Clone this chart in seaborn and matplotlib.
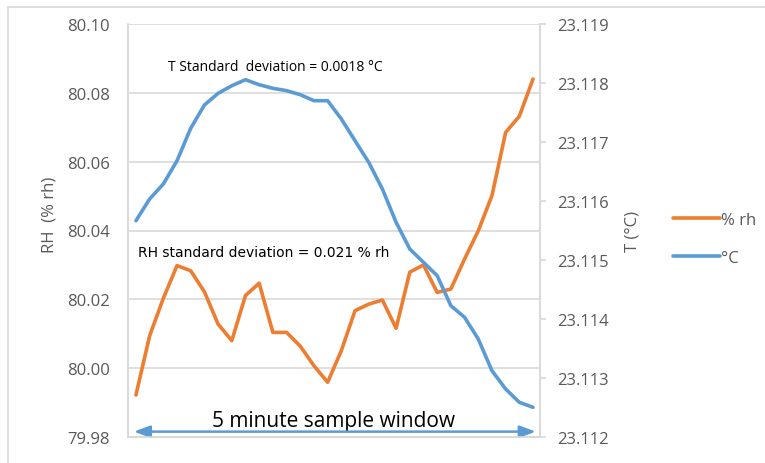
import numpy as np
import pandas as pd
import matplotlib
matplotlib.use("Agg")
import matplotlib.pyplot as plt
import seaborn as sns
from matplotlib.lines import Line2D
from matplotlib.ticker import FormatStrFormatter

# ---- data ----
rh_values = [79.9922, 80.0094, 80.0203, 80.0298, 80.0283, 80.0222, 80.0128, 80.0080,
             80.0211, 80.0247, 80.0104, 80.0104, 80.0064, 80.0007, 79.9959, 80.0051,
             80.0167, 80.0186, 80.0198, 80.0116, 80.0279, 80.0300, 80.0220, 80.0230,
             80.0317, 80.0399, 80.0501, 80.0685, 80.0732, 80.0840]
t_values = [23.115666, 23.116034, 23.116288, 23.116683, 23.117232, 23.117627, 23.117825,
            23.117954, 23.118056, 23.117971, 23.117910, 23.117870, 23.117802, 23.117700,
            23.117700, 23.117390, 23.117022, 23.116656, 23.116203, 23.115639, 23.115186,
            23.114961, 23.114734, 23.114225, 23.114029, 23.113661, 23.113124, 23.112814,
            23.112588, 23.112503]
sample = list(range(len(rh_values)))
series_labels = ["% rh", "°C"]
rh_ticks = [79.98, 80.00, 80.02, 80.04, 80.06, 80.08, 80.10]
t_ticks = [23.112, 23.113, 23.114, 23.115, 23.116, 23.117, 23.118, 23.119]

df = pd.DataFrame({"sample": sample, "rh": rh_values, "t": t_values})

ORANGE = "#ED7D31"
BLUE = "#5B9BD5"
GRID = "#D9D9D9"
TXT = "#595959"

sns.set_theme(style="white")
plt.rcParams["font.family"] = ["Open Sans", "DejaVu Sans"]

fig = plt.figure(figsize=(7.65, 4.64), dpi=100)
ax = fig.add_axes([128 / 765, 1 - 438 / 464, 412 / 765, 413 / 464])
ax2 = ax.twinx()

sns.lineplot(data=df, x="sample", y="rh", ax=ax, color=ORANGE, lw=2.6, legend=False)
sns.lineplot(data=df, x="sample", y="t", ax=ax2, color=BLUE, lw=2.6, legend=False)
ax2.set_zorder(ax.get_zorder() + 1)
ax2.patch.set_visible(False)

ax.set_xlim(-0.58, 29.51)
ax.set_ylim(rh_ticks[0], rh_ticks[-1])
ax.set_yticks(rh_ticks)
ax.yaxis.set_major_formatter(FormatStrFormatter("%.2f"))
ax2.set_ylim(t_ticks[0], t_ticks[-1])
ax2.set_yticks(t_ticks)
ax2.yaxis.set_major_formatter(FormatStrFormatter("%.3f"))

ax.set_xticks([])
ax.set_xlabel("")
ax.grid(axis="y", color=GRID, lw=1.2)
ax.set_axisbelow(True)

for a in (ax, ax2):
    for s in a.spines.values():
        s.set_color(GRID)
        s.set_linewidth(1.2)
    a.spines["top"].set_visible(False)

ax.tick_params(axis="y", length=0, pad=13, labelsize=12, labelcolor=TXT)
ax2.tick_params(axis="y", length=4, width=1.2, color=GRID, pad=8, labelsize=12, labelcolor=TXT)

ax.set_ylabel("RH  (% rh)", fontsize=12, color=TXT)
ax.yaxis.set_label_coords(-0.172, 0.54)
ax2.set_ylabel("T (°C)", fontsize=12, color=TXT)
ax2.yaxis.set_label_coords(1.206, 0.50)

# annotations
ax.text(2.34, 0.896, "T Standard  deviation = 0.0018 °C", transform=ax.get_xaxis_transform(),
        fontsize=10, color="black", va="center", ha="left")
ax.text(0.15, 0.448, "RH standard deviation = 0.021 % rh", transform=ax.get_xaxis_transform(),
        fontsize=10, color="black", va="center", ha="left", family=["DejaVu Sans"])
ax.text(14.46, 0.040, "5 minute sample window", transform=ax.get_xaxis_transform(),
        fontsize=15, color="black", va="center", ha="center")
ax.annotate("", xy=(29.2, 0.013), xytext=(-0.15, 0.013),
            xycoords=ax.get_xaxis_transform(), textcoords=ax.get_xaxis_transform(),
            arrowprops=dict(arrowstyle="<|-|>,head_length=0.8,head_width=0.3",
                            color=BLUE, lw=1.8, shrinkA=0, shrinkB=0))

handles = [Line2D([], [], color=ORANGE, lw=2.6), Line2D([], [], color=BLUE, lw=2.6)]
fig.legend(handles, series_labels, loc="center left", bbox_to_anchor=(658 / 765, 1 - 240 / 464),
           frameon=False, fontsize=12, handlelength=2.8, handletextpad=0.1, labelspacing=1.3,
           labelcolor=TXT)

# chart-area border
fig.add_artist(Line2D([8 / 765, 8 / 765], [0, 1 - 8 / 464], color=GRID, lw=1.2,
                      transform=fig.transFigure))
fig.add_artist(Line2D([8 / 765, 1], [1 - 8 / 464, 1 - 8 / 464], color=GRID, lw=1.2,
                      transform=fig.transFigure))

fig.savefig("out.png", dpi=100)
